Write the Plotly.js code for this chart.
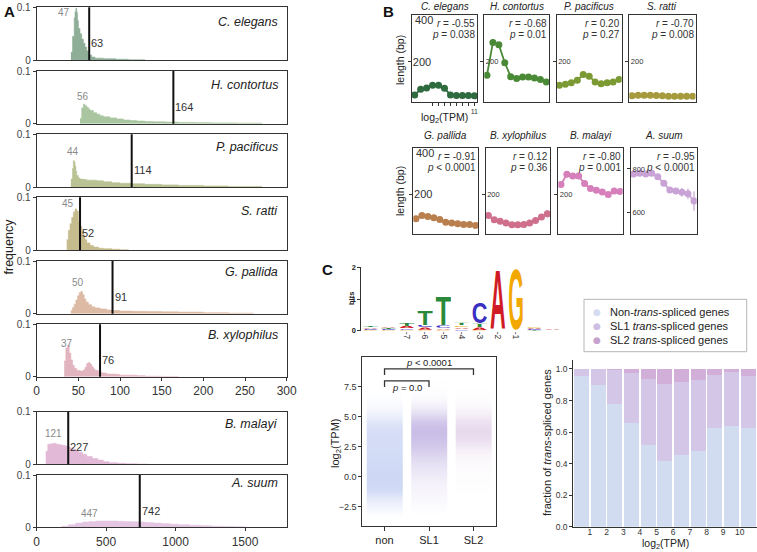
<!DOCTYPE html>
<html><head><meta charset="utf-8">
<script src="https://cdn.plot.ly/plotly-3.0.1.min.js"></script>
<style>body{margin:0;background:#fff}#chart{width:757px;height:552px}</style>
</head><body><div id="chart"></div>
<script>
// ================= DATA =================
// Panel A: length histograms (bin edge in bp, frequency)
const speciesNames = ['C. elegans','H. contortus','P. pacificus','S. ratti','G. pallida','B. xylophilus','B. malayi','A. suum'];
const ceLen  = [41,43,45,46,47,48,49,50,52,54,56,58,60,62,66,70,80,95,110,130];
const ceFreq = [0.015,0.045,0.08,0.092,0.098,0.09,0.075,0.06,0.05,0.04,0.032,0.025,0.018,0.01,0.006,0.004,0.003,0.002,0.001,0];
const hcLen  = [52,54,56,58,60,62,64,68,72,76,80,88,96,104,112,120,130,140,155,170,190,210,240,270];
const hcFreq = [0.01,0.03,0.037,0.034,0.031,0.028,0.025,0.021,0.018,0.015,0.013,0.011,0.009,0.007,0.006,0.005,0.004,0.0035,0.003,0.0025,0.002,0.0015,0.001,0];
const ppLen  = [41,43,44,45,46,47,48,50,52,56,60,66,72,80,90,100,115,130,150,170,200,230,270];
const ppFreq = [0.015,0.035,0.05,0.048,0.04,0.03,0.022,0.017,0.015,0.014,0.013,0.013,0.012,0.01,0.008,0.007,0.006,0.005,0.004,0.003,0.002,0.001,0];
const srLen  = [36,38,40,42,44,46,48,50,52,54,56,58,60,64,68,74,80,90,100,110];
const srFreq = [0.02,0.038,0.05,0.062,0.072,0.078,0.074,0.055,0.045,0.036,0.028,0.02,0.014,0.009,0.006,0.004,0.003,0.002,0.001,0];
const gpLen  = [41,43,45,47,49,51,53,55,57,59,62,66,70,76,84,92,100,115,130,150,170,200,230,260];
const gpFreq = [0.006,0.012,0.018,0.026,0.034,0.04,0.042,0.036,0.028,0.022,0.017,0.013,0.011,0.009,0.007,0.006,0.005,0.0045,0.004,0.0035,0.003,0.002,0.001,0];
const bxLen  = [33,35,37,39,41,43,45,48,52,56,58,60,62,64,66,68,70,74,78,84,90,96,100,110,120,130,150,170];
const bxFreq = [0.03,0.055,0.06,0.045,0.032,0.022,0.016,0.012,0.011,0.013,0.018,0.025,0.027,0.024,0.019,0.015,0.012,0.009,0.007,0.005,0.005,0.004,0.003,0.003,0.002,0.001,0.0005,0];
const bmLen  = [65,80,100,120,140,160,180,200,220,240,260,280,300,330,360,400,440,480,520,580,640,720,800];
const bmFreq = [0.025,0.038,0.039,0.04,0.038,0.037,0.036,0.035,0.033,0.031,0.029,0.026,0.023,0.019,0.015,0.011,0.008,0.005,0.003,0.002,0.001,0.0005,0];
const asLen  = [180,230,280,330,380,430,480,530,580,630,680,730,780,840,900,960,1020,1100,1180,1260,1340,1420,1500];
const asFreq = [0.002,0.005,0.008,0.01,0.011,0.012,0.012,0.012,0.0115,0.011,0.0105,0.01,0.009,0.008,0.007,0.006,0.005,0.004,0.003,0.002,0.0015,0.001,0];
const modeValues   = [47,56,44,45,50,37,121,447];
const medianValues = [63,164,114,52,91,76,227,742];
const histTicksShort = [0,50,100,150,200,250,300];
const histTicksLong  = [0,500,1000,1500];

// Panel B: length (bp) vs log2(TPM)
const log2TPM = [1,2,3,4,5,6,7,8,9,10,11];
const ceLength = [59,83,88,100,100,87,59,56,56,56,55];
const hcLength = [143,283,273,196,137,129,135,135,131,125,114];
const ppLength = [100,104,111,122,146,139,114,107,111,114,125];
const srLength = [55,58,58,58,56,55,53,53,53,53,53];
const gpLength = [96,110,106,100,93,81,78,74,71,71,67];
const bxLength = [110,91,85,78,70,70,71,78,88,103,117];
const bmLength = [244,288,280,280,248,226,219,211,201,216,214];
const asLength = [776,780,777,780,764,734,703,698,692,685,652];
const ceErr = [4,4,4,5,5,5,4,4,4,4,4];
const hcErr = [8,15,12,10,6,5,6,8,10,12,10];
const ppErr = [5,5,5,5,6,6,5,5,6,8,10];
const srErr = [3,3,3,3,3,3,3,3,3,3,3];
const gpErr = [4,4,4,4,4,4,4,4,4,5,5];
const bxErr = [5,5,4,4,4,4,4,5,6,8,15];
const bmErr = [8,8,8,8,8,8,8,8,10,12,12];
const asErr = [10,10,10,10,10,12,12,15,20,25,45];
const corrR = ['-0.55','-0.68','0.20','-0.70','-0.91','0.12','-0.80','-0.95'];
const corrP = ['= 0.038','= 0.01','= 0.27','= 0.008','< 0.0001','= 0.36','= 0.001','< 0.0001'];

// Panel C: sequence logo (bits per base at each position)
const logoLabels = ['','','-7','-6','-5','-4','-3','-2','-1','',''];
const logoA = [0.05,0.05,0.07,0.07,0.06,0.06,0.08,1.95,0.01,0.04,0.02];
const logoC = [0.04,0.03,0.05,0.08,0.08,0.05,0.69,0.01,0.01,0.03,0.01];
const logoG = [0.02,0.02,0.03,0.03,0.03,0.06,0.02,0.01,1.97,0.05,0.01];
const logoT = [0.06,0.04,0.09,0.48,0.95,0.08,0.12,0.01,0.01,0.02,0.01];

// Panel C: expression by trans-splicing class (relative point density per log2 TPM bin)
const stripGroups = ['non','SL1','SL2'];
const stripBinEdges = [-3.5,-3,-2.5,-2,-1.5,-1,-0.5,0,0.5,1,1.5,2,2.5,3,3.5,4,4.5,5,5.5,6,6.5,7,7.5,8];
const nonDensity = [0.04,0.18,0.35,0.55,0.85,0.97,1.0,1.0,0.96,0.92,0.9,0.88,0.87,0.86,0.84,0.75,0.55,0.33,0.18,0.09,0.04,0.01,0];
const sl1Density = [0,0.04,0.08,0.12,0.15,0.19,0.24,0.32,0.4,0.5,0.62,0.74,0.86,0.95,1.0,0.95,0.78,0.52,0.3,0.15,0.07,0.03,0.01];
const sl2Density = [0,0,0,0,0.01,0.02,0.03,0.04,0.06,0.08,0.12,0.2,0.33,0.45,0.5,0.45,0.35,0.22,0.12,0.06,0.03,0.01,0];
const sigTests = [['non','SL2','<i>p</i> < 0.0001'],['non','SL1','<i>p</i> = 0.0']];

// Panel C: fraction of trans-spliced genes per log2(TPM) bin
const tpmBinStart = [0,1,2,3,4,5,6,7,8,9,10];
const tpmTicks = [1,2,3,4,5,6,7,8,9,10];
const fracNon = [0.956,0.898,0.778,0.660,0.516,0.416,0.455,0.480,0.628,0.638,0.628];
const fracSL1 = [0.044,0.100,0.216,0.317,0.423,0.489,0.460,0.450,0.334,0.343,0.328];
const fracSL2 = [0.000,0.002,0.006,0.023,0.061,0.095,0.085,0.070,0.038,0.019,0.044];
const legendNames = ['Non-<i>trans</i>-spliced genes','SL1 <i>trans</i>-spliced genes','SL2 <i>trans</i>-spliced genes'];

// ================= STYLE / LAYOUT =================
const FONT = 'Liberation Sans, Arial, sans-serif';
const W = 757, H = 552;
const dX = (a,b)=>[a/W,b/W];
const dY = (t,b)=>[1-b/H,1-t/H];
const ax = i => i===1 ? '' : String(i);
const AX = '#333';

const histFill = ['#8fae98','#a9c6a0','#b8c293','#c6bb8d','#dcbaa4','#e2b4c0','#e2b9d6','#e4c6e3'];
const lineCol  = ['#2e6b3f','#4a8a36','#7b9a33','#a59b3d','#b97f4e','#cf6f8c','#d67fbb','#c9a3d6'];

const traces = [], annotations = [], shapes = [], images = [];
const layout = {
  width: W, height: H, margin:{l:0,r:0,t:0,b:0},
  paper_bgcolor:'#fff', plot_bgcolor:'rgba(0,0,0,0)',
  showlegend:false, barmode:'stack',
  font:{family:FONT, color:'#222'},
};
function paperText(xp, yp, text, opts){
  annotations.push(Object.assign({xref:'paper', yref:'paper', x:xp/W, y:1-yp/H, text:text, showarrow:false,
    xanchor:'center', yanchor:'middle', font:{family:FONT,size:11,color:'#222'}}, opts||{}));
}

function baseAxis(extra){
  return Object.assign({showgrid:false, zeroline:false, showline:true, linecolor:AX, linewidth:1,
    fixedrange:true, tickcolor:AX, tickfont:{family:FONT,size:10,color:'#333'}}, extra);
}

// ---------- Panel A ----------
const histLens  = [ceLen,hcLen,ppLen,srLen,gpLen,bxLen,bmLen,asLen];
const histFreqs = [ceFreq,hcFreq,ppFreq,srFreq,gpFreq,bxFreq,bmFreq,asFreq];
const aBoxes = [[7.3,60.3],[71,123.7],[134.3,187],[197.3,250.3],[261,313.7],[324.3,376.7],[411.7,464.3],[475,527.3]];
const speciesY = [0.72,0.73,0.75,0.75,0.8,0.8,0.77,0.84];
const modeShift = [[-12,-12],[0,0],[0,2],[-6,-2],[0,2],[-1,-6],[0,2],[-9,0]];
for(let k=0;k<8;k++){
  const i=k+1, long = k>=6;
  const showX = (k===5||k===7);
  layout['xaxis'+ax(i)] = baseAxis({domain:dX(36.7,286.7), range: long?[0,1800]:[0,300], mirror:true,
    anchor:'y'+ax(i), tickvals: long?histTicksLong:histTicksShort, showticklabels:showX,
    ticks: showX?'outside':'', ticklen:3, tickfont:{family:FONT,size:12,color:'#333'}});
  layout['yaxis'+ax(i)] = baseAxis({domain:dY(aBoxes[k][0],aBoxes[k][1]), range:[0,0.1], mirror:true,
    anchor:'x'+ax(i), tickvals:[0,0.1], ticktext:['0','0.1'], ticks:'outside', ticklen:3,
    tickfont:{family:FONT,size:10,color:'#444'}});
  traces.push({type:'scatter', x:histLens[k], y:histFreqs[k], mode:'lines', line:{shape:'hv',width:0.6,color:histFill[k]},
    fill:'tozeroy', fillcolor:histFill[k], xaxis:'x'+ax(i), yaxis:'y'+ax(i), hoverinfo:'skip'});
  shapes.push({type:'line', xref:'x'+ax(i), yref:'y'+ax(i)+' domain', x0:medianValues[k], x1:medianValues[k], y0:0, y1:1,
    line:{color:'#111', width:2}});
  annotations.push({xref:'x'+ax(i), yref:'y'+ax(i), x:medianValues[k], y:0.032, text:String(medianValues[k]),
    xanchor:'left', yanchor:'middle', showarrow:false, font:{family:FONT,size:11,color:'#333'}});
  annotations.push({xref:'x'+ax(i), yref:'y'+ax(i), x:modeValues[k], y:Math.max(...histFreqs[k]), text:String(modeValues[k]),
    xanchor:'center', yanchor:'bottom', xshift:modeShift[k][0], yshift:modeShift[k][1], showarrow:false,
    font:{family:FONT,size:10,color:'#8a8a8a'}});
  annotations.push({xref:'x'+ax(i)+' domain', yref:'y'+ax(i)+' domain', x:0.975, y:speciesY[k], text:'<i>'+speciesNames[k]+'</i>',
    xanchor:'right', yanchor:'middle', showarrow:false, font:{family:FONT,size:12.5,color:'#222'}});
}
paperText(8.5, 247, 'frequency', {textangle:-90, font:{family:FONT,size:12.5,color:'#222'}});
paperText(2, 1, '<b>A</b>', {xanchor:'left', yanchor:'top', font:{family:FONT,size:15,color:'#111'}});

// ---------- Panel B ----------
const bLengths = [ceLength,hcLength,ppLength,srLength,gpLength,bxLength,bmLength,asLength];
const bErrs = [ceErr,hcErr,ppErr,srErr,gpErr,bxErr,bmErr,asErr];
const bBoxX = [[[412,477],[484.3,549],[556.7,621.7],[629.3,695.5]],[[413.3,478.3],[485.7,550],[558.3,622.7],[631,696.7]]];
const bBoxY = [[15,101.7],[148.3,234]];
const bTitleShift = [8.5, 13];
const endTicks = [log2TPM[0], log2TPM[log2TPM.length-1]];
for(let k=0;k<8;k++){
  const i=9+k, row = k<4?0:1, col = k%4;
  const first = (col===0);
  layout['xaxis'+i] = baseAxis({domain:dX(...bBoxX[row][col]), range:[0.55,11.45], mirror:true, anchor:'y'+i,
    tickvals: endTicks, showticklabels: k===0, ticks: k===0?'outside':'', ticklen:3,
    minor: k===0 ? {tickmode:'array', tickvals:log2TPM.slice(1,-1), ticks:'outside', ticklen:3, tickcolor:AX} : undefined,
    tickfont:{family:FONT,size:7,color:'#333'}});
  const asuum = (k===7);
  layout['yaxis'+i] = baseAxis({domain:dY(...bBoxY[row]), range: asuum?[500,895]:[30,400], mirror:true, anchor:'x'+i,
    tickvals: asuum?[600,800]:[200], ticks:'outside', ticklen:3,
    ticklabelposition:'inside', tickfont:{family:FONT,size:first?11:7.5,color:'#333'}});
  if(first){
    annotations.push({xref:'x'+i+' domain', yref:'y'+i, x:0, y:400, xanchor:'left', yanchor:'top', xshift:2, yshift:2,
      borderpad:0, text:'400', showarrow:false, font:{family:FONT,size:11,color:'#333'}});
  }
  traces.push({type:'scatter', x:log2TPM, y:bLengths[k], mode:'lines+markers', xaxis:'x'+i, yaxis:'y'+i,
    line:{color:lineCol[k], width:1.8}, marker:{color:lineCol[k], size:7},
    error_y:{type:'data', array:bErrs[k], visible:true, color:lineCol[k], thickness:1.2, width:0}, hoverinfo:'skip'});
  annotations.push({xref:'x'+i+' domain', yref:'y'+i+' domain', x:0.5, y:1, yanchor:'middle', yshift:bTitleShift[row],
    borderpad:0, text:'<i>'+speciesNames[k]+'</i>', showarrow:false, font:{family:FONT,size:10,color:'#222'}});
  annotations.push({xref:'x'+i+' domain', yref:'y'+i+' domain', x:1, y:0.903, xanchor:'right', yanchor:'middle',
    text:'<i>r</i> = '+corrR[k], showarrow:false, font:{family:FONT,size:10,color:'#333'}});
  annotations.push({xref:'x'+i+' domain', yref:'y'+i+' domain', x:1, y:0.776, xanchor:'right', yanchor:'middle',
    text:'<i>p</i> '+corrP[k], showarrow:false, font:{family:FONT,size:10,color:'#333'}});
}
paperText(400, 60, 'length (bp)', {textangle:-90, font:{family:FONT,size:10.5,color:'#222'}});
paperText(400, 191, 'length (bp)', {textangle:-90, font:{family:FONT,size:10.5,color:'#222'}});
paperText(444, 118, 'log<sub>2</sub>(TPM)', {font:{family:FONT,size:10.5,color:'#222'}});
paperText(381, 1, '<b>B</b>', {xanchor:'left', yanchor:'top', font:{family:FONT,size:15,color:'#111'}});

// ---------- Panel C: logo ----------
const LI = 17;
const logoTickPos = [], logoTickText = [];
logoLabels.forEach((l,j)=>{ if(l){ logoTickPos.push(j+1); logoTickText.push(l); } });
layout['xaxis'+LI] = baseAxis({domain:dX(361.4,561.6), range:[0.5,11.5], anchor:'y'+LI, showline:false,
  tickvals: logoTickPos, ticktext: logoTickText, ticks:'', tickangle:90,
  tickfont:{family:FONT,size:8.5,color:'#333'}});
layout['yaxis'+LI] = baseAxis({domain:dY(267.3,330.7), range:[0,2], anchor:'x'+LI, tickvals:[0,1,2], ticks:'outside', ticklen:3,
  tickfont:{family:FONT,size:7.5,color:'#222',weight:'bold'}});
paperText(351, 299, '<b>bits</b>', {textangle:-90, font:{family:FONT,size:7.5,color:'#222'}});
const letterColor = {A:'#d01c24', C:'#3a2fc0', G:'#f2a800', T:'#2a8a3a'};
const letterWidth = {A:72, C:72, G:78, T:61};
function letterSVG(L){
  const w = letterWidth[L];
  const s = '<svg xmlns="http://www.w3.org/2000/svg" viewBox="0 -73 '+w+' 74" preserveAspectRatio="none" width="'+w+'" height="74">'+
    '<text x="0" y="0" font-family="Liberation Sans, Arial, sans-serif" font-weight="bold" font-size="100" textLength="'+w+
    '" lengthAdjust="spacingAndGlyphs" fill="'+letterColor[L]+'">'+L+'</text></svg>';
  return 'data:image/svg+xml;charset=utf-8,'+encodeURIComponent(s);
}
for(let j=0;j<logoLabels.length;j++){
  const stack = [['A',logoA[j]],['C',logoC[j]],['G',logoG[j]],['T',logoT[j]]].sort((a,b)=>a[1]-b[1]);
  let base = 0;
  stack.forEach(([L,h])=>{
    if(h>0.005){
      images.push({source:letterSVG(L), xref:'x'+LI, yref:'y'+LI, x:j+1-0.43, y:base+h, sizex:0.86, sizey:h,
        xanchor:'left', yanchor:'top', sizing:'stretch', layer:'above'});
    }
    base += h;
  });
}
paperText(320, 259, '<b>C</b>', {xanchor:'left', yanchor:'top', font:{family:FONT,size:15,color:'#111'}});

// ---------- Panel C: strip density ----------
const SI = 18;
layout['xaxis'+SI] = baseAxis({domain:dX(362.3,495.7), range:[-0.5,2.5], mirror:true, anchor:'y'+SI,
  tickvals:[0,1,2], ticktext:stripGroups, ticks:'outside', ticklen:4, tickfont:{family:FONT,size:11,color:'#222'}});
layout['yaxis'+SI] = baseAxis({domain:dY(357,525.7), range:[-4.1,10], mirror:true, anchor:'x'+SI,
  tickvals:[-2.5,0,2.5,5,7.5], tickformat:'.1f', ticks:'outside', ticklen:3, tickfont:{family:FONT,size:9,color:'#333'}});
const stripCols = [[176,192,238,0.62],[174,156,218,0.66],[190,150,205,0.72]];
[nonDensity,sl1Density,sl2Density].forEach((dens,g)=>{
  const c = stripCols[g];
  traces.push({type:'heatmap', x:[g-0.4,g,g+0.4], y:stripBinEdges, z:dens.map(v=>[v,v]), zmin:0, zmax:1, zsmooth:'best',
    showscale:false, hoverinfo:'skip', xaxis:'x'+SI, yaxis:'y'+SI,
    colorscale:[[0,'rgba('+c[0]+','+c[1]+','+c[2]+',0)'],[1,'rgba('+c[0]+','+c[1]+','+c[2]+','+c[3]+')']]});
});
const sigLevel = [9.0, 8.0];
sigTests.forEach((t,n)=>{
  const a = stripGroups.indexOf(t[0]), b = stripGroups.indexOf(t[1]), y = sigLevel[n];
  traces.push({type:'scatter', mode:'lines', x:[a,a,b,b], y:[y-0.5,y,y,y-0.5], line:{color:'#333',width:1.3},
    xaxis:'x'+SI, yaxis:'y'+SI, hoverinfo:'skip'});
  annotations.push({xref:'x'+SI, yref:'y'+SI, x:(a+b)/2, y: n===0? y : y-0.5, yanchor: n===0?'bottom':'middle',
    yshift:-1, text:t[2], showarrow:false, font:{family:FONT,size:9.5,color:'#222'}});
});
paperText(336, 443, 'log<sub>2</sub>(TPM)', {textangle:-90, font:{family:FONT,size:11,color:'#222'}});

// ---------- Panel C: stacked bars ----------
const BI = 19;
layout['xaxis'+BI] = baseAxis({domain:dX(573.3,756.5), range:[0,11], anchor:'y'+BI, tickvals:tpmTicks, ticks:'', ticklen:0,
  ticklabelstandoff:-3, tickfont:{family:FONT,size:8.5,color:'#333'}});
layout['yaxis'+BI] = baseAxis({domain:dY(360,526.7), range:[0,1.057], anchor:'x'+BI, tickvals:[0,0.2,0.4,0.6,0.8,1.0],
  tickformat:'.1f', ticks:'outside', ticklen:3, tickfont:{family:FONT,size:8.5,color:'#333'}});
const barCols = ['#d1dcf1','#d4c6e6','#d1afd8'];
[fracNon,fracSL1,fracSL2].forEach((f,s)=>{
  traces.push({type:'bar', x:tpmBinStart, y:f, offset:0.05, width:0.9, marker:{color:barCols[s], line:{width:0}},
    xaxis:'x'+BI, yaxis:'y'+BI, hoverinfo:'skip'});
});
paperText(547, 443, 'fraction of <i>trans</i>-spliced genes', {textangle:-90, font:{family:FONT,size:11,color:'#222'}});
paperText(665, 544, 'log<sub>2</sub>(TPM)', {font:{family:FONT,size:10.5,color:'#222'}});

// legend
shapes.push({type:'rect', xref:'paper', yref:'paper', x0:584/W, x1:746.7/W, y0:1-351.7/H, y1:1-299.3/H,
  line:{color:'#b5b5b5',width:1}, fillcolor:'#fff', layer:'below'});
const legMarker = ['#d3dcf2','#cdbfe3','#c6a3cf'];
legendNames.forEach((nm,s)=>{
  const yy = 312.3+s*13.8;
  paperText(596.7, yy, '●', {font:{family:'DejaVu Sans',size:9,color:legMarker[s]}});
  paperText(608, yy, nm, {xanchor:'left', font:{family:FONT,size:11,color:'#222'}});
});

layout.annotations = annotations;
layout.shapes = shapes;
layout.images = images;
Plotly.newPlot('chart', traces, layout, {displayModeBar:false, staticPlot:true});
</script></body></html>
